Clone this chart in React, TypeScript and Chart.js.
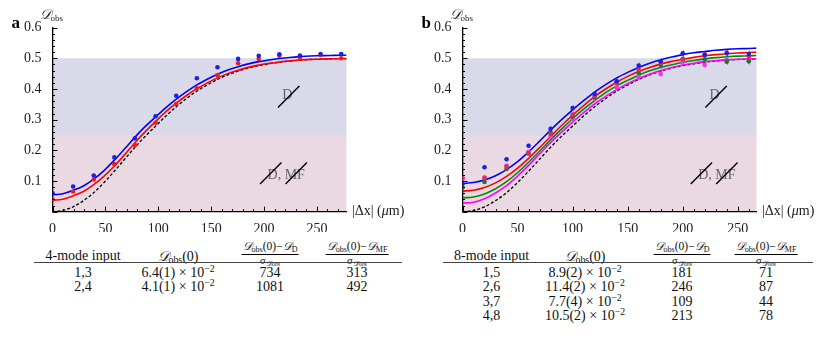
import React, { useEffect, useRef } from "react";
import { Chart, registerables } from "chart.js";
Chart.register(...registerables);

const SERIF = "'Liberation Serif', 'DejaVu Serif', serif";
const SD = "\u{1D49F}";

// ---------- Panel a data ----------
const dotXA = [0, 19.5, 39, 58.5, 78, 97.5, 117, 136.5, 156, 175.5, 195, 214.5, 234, 253.5, 273];
const dotBlueA = [0.061, 0.082, 0.118, 0.177, 0.239, 0.311, 0.378, 0.435, 0.471, 0.498, 0.508, 0.513, 0.509, 0.514, 0.514];
const dotRedA = [0.040, 0.066, 0.105, 0.155, 0.217, 0.290, 0.351, 0.402, 0.445, 0.484, 0.498, 0.508, 0.502, 0.511, 0.500];
const curveXA = [0, 9.75, 19.5, 29.25, 39, 48.75, 58.5, 68.25, 78, 87.75, 97.5, 107.25, 117, 126.75, 136.5, 146.25, 156, 165.75, 175.5, 185.25, 195, 204.75, 214.5, 224.25, 234, 243.75, 253.5, 263.25, 273, 278];
const curveBlueA = [0.055, 0.0586, 0.0696, 0.084, 0.106, 0.134, 0.168, 0.205, 0.243, 0.278, 0.309, 0.3395, 0.367, 0.3915, 0.4134, 0.4317, 0.4481, 0.4618, 0.4727, 0.4818, 0.4891, 0.4946, 0.4991, 0.5028, 0.5055, 0.5074, 0.5083, 0.5092, 0.510, 0.510];
const curveRedA = [0.037, 0.0407, 0.0518, 0.066, 0.088, 0.116, 0.149, 0.186, 0.225, 0.261, 0.294, 0.3259, 0.3537, 0.3787, 0.4009, 0.4194, 0.4361, 0.45, 0.4611, 0.4704, 0.4778, 0.4833, 0.488, 0.4917, 0.4944, 0.4963, 0.4972, 0.4981, 0.499, 0.499];
const curveBlackA = [0, 0.004, 0.016, 0.036, 0.062, 0.095, 0.132, 0.171, 0.21, 0.246, 0.279, 0.312, 0.342, 0.369, 0.393, 0.413, 0.431, 0.446, 0.458, 0.468, 0.476, 0.482, 0.487, 0.491, 0.494, 0.496, 0.497, 0.498, 0.499, 0.499];

// ---------- Panel b data ----------
const dotXB = [0, 20, 40, 60, 80, 100, 120, 140, 160, 180, 200, 220, 240, 260];
const dotBlueB = [0.09, 0.145, 0.171, 0.215, 0.27, 0.338, 0.384, 0.425, 0.476, 0.49, 0.516, 0.511, 0.516, 0.514];
const dotRedB = [0.11, 0.111, 0.147, 0.19, 0.253, 0.317, 0.377, 0.42, 0.463, 0.486, 0.497, 0.513, 0.518, 0.505];
const dotGreenB = [0.079, 0.097, 0.139, 0.19, 0.258, 0.31, 0.372, 0.421, 0.453, 0.478, 0.498, 0.497, 0.489, 0.49];
const dotMagentaB = [0.108, 0.11, 0.15, 0.195, 0.245, 0.302, 0.368, 0.405, 0.44, 0.449, 0.489, 0.478, 0.495, 0.495];
const errB = [0.005, 0.006, 0.006, 0.007, 0.008, 0.009, 0.009, 0.010, 0.010, 0.011, 0.011, 0.011, 0.011, 0.011];
const curveXB = [0, 10, 20, 30, 40, 50, 60, 70, 80, 90, 100, 110, 120, 130, 140, 150, 160, 170, 180, 190, 200, 210, 220, 230, 240, 250, 260, 267];
const curveBlueB = [0.092, 0.095, 0.103, 0.117, 0.137, 0.163, 0.195, 0.230, 0.266, 0.300, 0.332, 0.362, 0.390, 0.414, 0.436, 0.454, 0.470, 0.484, 0.495, 0.504, 0.512, 0.518, 0.522, 0.526, 0.529, 0.531, 0.532, 0.533];
const curveRedB = [0.067, 0.070, 0.079, 0.094, 0.115, 0.142, 0.174, 0.209, 0.245, 0.281, 0.315, 0.346, 0.375, 0.400, 0.422, 0.441, 0.457, 0.470, 0.481, 0.490, 0.497, 0.503, 0.508, 0.512, 0.515, 0.517, 0.519, 0.520];
const curveGreenB = [0.045, 0.048, 0.058, 0.075, 0.098, 0.127, 0.161, 0.197, 0.234, 0.269, 0.303, 0.334, 0.362, 0.388, 0.410, 0.428, 0.445, 0.459, 0.470, 0.479, 0.487, 0.493, 0.498, 0.502, 0.505, 0.507, 0.508, 0.509];
const curveMagentaB = [0.028, 0.031, 0.042, 0.061, 0.085, 0.116, 0.151, 0.188, 0.225, 0.259, 0.292, 0.323, 0.351, 0.376, 0.398, 0.417, 0.434, 0.448, 0.460, 0.470, 0.478, 0.484, 0.489, 0.492, 0.495, 0.497, 0.498, 0.499];
const curveBlackB = [0, 0.004, 0.016, 0.036, 0.062, 0.095, 0.132, 0.171, 0.21, 0.246, 0.279, 0.312, 0.342, 0.369, 0.393, 0.413, 0.431, 0.446, 0.458, 0.468, 0.476, 0.482, 0.487, 0.491, 0.494, 0.496, 0.497, 0.498];

// bands and ticks
const bandEdges = [0, 0.25, 0.5];
const yTickStep = 0.1;
const xTickStep = 50;

// ---------- Tables ----------
const tableAInputs = ["1,3", "2,4"];
const tableAD0 = ["6.4(1)", "4.1(1)"];
const tableAD = ["734", "1081"];
const tableAMF = ["313", "492"];
const tableBInputs = ["1,5", "2,6", "3,7", "4,8"];
const tableBD0 = ["8.9(2)", "11.4(2)", "7.7(4)", "10.5(2)"];
const tableBD = ["181", "246", "109", "213"];
const tableBMF = ["71", "87", "44", "78"];

const pts = (xs: number[], ys: number[]) => xs.map((x, i) => ({ x, y: ys[i] }));

const curve = (xs: number[], ys: number[], color: string, dash?: number[]) => ({
  data: pts(xs, ys),
  borderColor: color,
  borderWidth: dash ? 1.3 : 1.6,
  borderDash: dash || [],
  pointRadius: 0,
  showLine: true,
  fill: false,
  cubicInterpolationMode: "monotone" as const,
});
const dots = (xs: number[], ys: number[], color: string, err?: number[]) => ({
  data: pts(xs, ys),
  showLine: false,
  pointRadius: 2.3,
  pointBackgroundColor: color,
  pointBorderWidth: 0,
  borderColor: color,
  errors: err,
});

type Spec = {
  letter: string;
  width: number;
  xMax: number;
  datasets: any[];
  dMark: number[];
  dmfMark: number[];
};

function makeDeco(spec: Spec) {
  return {
    id: "deco" + spec.letter,
    beforeDraw(chart: any) {
      const { ctx, chartArea: ca, scales } = chart;
      const y = scales.y;
      ctx.save();
      const cols = ["rgb(234,217,227)", "rgb(217,217,234)"];
      for (let i = 0; i < bandEdges.length - 1; i++) {
        const y0 = y.getPixelForValue(bandEdges[i]);
        const y1 = y.getPixelForValue(bandEdges[i + 1]);
        ctx.fillStyle = cols[i];
        ctx.fillRect(ca.left, y1, ca.right - ca.left, y0 - y1);
      }
      ctx.restore();
    },
    beforeDatasetsDraw(chart: any) {
      const { ctx, scales } = chart;
      const x = scales.x, y = scales.y;
      ctx.save();
      ctx.lineWidth = 1;
      ctx.globalAlpha = 0.55;
      chart.data.datasets.forEach((ds: any) => {
        if (!ds.errors) return;
        ctx.strokeStyle = ds.borderColor;
        ds.data.forEach((p: any, i: number) => {
          const e = ds.errors[i];
          const px = Math.round(x.getPixelForValue(p.x)) + 0.5;
          ctx.beginPath();
          ctx.moveTo(px, y.getPixelForValue(p.y - e));
          ctx.lineTo(px, y.getPixelForValue(p.y + e));
          ctx.stroke();
        });
      });
      ctx.restore();
    },
    afterDraw(chart: any) {
      const { ctx, chartArea: ca, scales } = chart;
      const x = scales.x, y = scales.y;
      ctx.save();
      ctx.strokeStyle = "#000";
      ctx.lineWidth = 1;
      for (let i = 0; i <= 30; i++) {
        const v = i * 0.02;
        const py = Math.round(y.getPixelForValue(v)) + 0.5;
        const len = i % 5 === 0 ? 5 : 2.5;
        ctx.beginPath();
        ctx.moveTo(ca.left, py);
        ctx.lineTo(ca.left + len, py);
        ctx.stroke();
      }
      for (let i = 0; i * 10 <= spec.xMax; i++) {
        const px = Math.round(x.getPixelForValue(i * 10)) + 0.5;
        const len = i % 5 === 0 ? 5 : 2.5;
        ctx.beginPath();
        ctx.moveTo(px, ca.bottom);
        ctx.lineTo(px, ca.bottom - len);
        ctx.stroke();
      }
      // panel letter
      ctx.fillStyle = "#000";
      ctx.textBaseline = "alphabetic";
      ctx.textAlign = "left";
      ctx.font = `bold 17px ${SERIF}`;
      ctx.fillText(spec.letter, ca.left - 41, 28);
      // y title
      ctx.fillStyle = "#222";
      ctx.font = `italic 14px 'DejaVu Serif', 'DejaVu Sans', serif`;
      ctx.fillText(SD, ca.left - 13, 19);
      const dw = ctx.measureText(SD).width;
      ctx.font = `9px ${SERIF}`;
      ctx.fillText("obs", ca.left - 13 + dw, 21);
      // x title
      ctx.textBaseline = "middle";
      let tx = ca.right + 5.5;
      const ty = ca.bottom - 0.5;
      const parts: [string, boolean][] = [["|\u0394x| (", false], ["\u03bc", true], ["m)", false]];
      for (const [s, it] of parts) {
        ctx.font = `${it ? "italic " : ""}14px ${SERIF}`;
        ctx.fillText(s, tx, ty);
        tx += ctx.measureText(s).width;
      }
      // annotations
      ctx.font = `14px ${SERIF}`;
      ctx.fillStyle = "#666";
      ctx.textAlign = "center";
      const cx = x.getPixelForValue(spec.dMark[0]);
      const cy = y.getPixelForValue(spec.dMark[1]);
      ctx.fillText("D", cx, cy);
      ctx.strokeStyle = "#000";
      ctx.lineWidth = 1.4;
      const slash = (mx: number, my: number) => {
        ctx.beginPath();
        ctx.moveTo(mx - 10.7, my + 10.7);
        ctx.lineTo(mx + 10.7, my - 10.7);
        ctx.stroke();
      };
      slash(cx + 1.4, cy + 1.7);
      const mx = x.getPixelForValue(spec.dmfMark[0]);
      const my = y.getPixelForValue(spec.dmfMark[1]);
      ctx.textAlign = "left";
      const txt = "D, MF";
      const w = ctx.measureText(txt).width;
      const lx = mx - w / 2;
      ctx.fillText(txt, lx, my);
      slash(lx + 3.2, my - 1.6);
      slash(lx + 28.7, my - 1.6);
      ctx.restore();
    },
  };
}

function Panel({ spec, left }: { spec: Spec; left: number }) {
  const ref = useRef<HTMLCanvasElement>(null);
  useEffect(() => {
    const tickFont = { family: SERIF, size: 14 };
    const chart = new Chart(ref.current as HTMLCanvasElement, {
      type: "line",
      data: { datasets: spec.datasets },
      options: {
        animation: false,
        responsive: false,
        devicePixelRatio: 1,
        layout: { padding: { left: 12.5, top: 27.6, right: spec.width - 346.5, bottom: 0 } },
        plugins: { legend: { display: false }, tooltip: { enabled: false } },
        scales: {
          x: {
            type: "linear",
            min: 0,
            max: spec.xMax,
            grid: { display: false },
            border: { display: true, color: "#000", width: 1.3 },
            ticks: {
              stepSize: xTickStep,
              includeBounds: false,
              autoSkip: false,
              maxRotation: 0,
              padding: 1,
              font: tickFont,
              color: "#222",
              callback: (v: any) => String(v),
            },
            afterFit: (s: any) => {
              s.height = 20.3;
            },
          },
          y: {
            type: "linear",
            min: 0,
            max: 0.6,
            grid: { display: false },
            border: { display: true, color: "#000", width: 1.3 },
            ticks: {
              stepSize: yTickStep,
              autoSkip: false,
              padding: 3,
              font: tickFont,
              color: "#222",
              callback: (v: any) => (Number(v) === 0 ? "" : Number(v).toFixed(1)),
            },
            afterFit: (s: any) => {
              s.width = 40;
            },
          },
        },
      } as any,
      plugins: [makeDeco(spec)],
    });
    return () => chart.destroy();
  }, []);
  return (
    <canvas
      ref={ref}
      width={spec.width}
      height={232}
      style={{ position: "absolute", left, top: 0, width: spec.width, height: 232 }}
    />
  );
}

const specA: Spec = {
  letter: "a",
  width: 410,
  xMax: 278,
  datasets: [
    dots(dotXA, dotBlueA, "rgb(30,30,235)"),
    dots(dotXA, dotRedA, "rgb(235,30,30)"),
    curve(curveXA, curveBlueA, "rgb(0,0,255)"),
    curve(curveXA, curveRedA, "rgb(255,0,0)"),
    curve(curveXA, curveBlackA, "#000", [3, 2]),
  ],
  dMark: [222, 0.38],
  dmfMark: [221, 0.12],
};

const specB: Spec = {
  letter: "b",
  width: 412,
  xMax: 267,
  datasets: [
    dots(dotXB, dotBlueB, "rgb(30,30,235)", errB),
    dots(dotXB, dotRedB, "rgb(230,40,80)", errB),
    dots(dotXB, dotGreenB, "rgb(30,120,40)", errB),
    dots(dotXB, dotMagentaB, "rgb(230,60,230)", errB),
    curve(curveXB, curveBlueB, "rgb(0,0,255)"),
    curve(curveXB, curveRedB, "rgb(255,0,0)"),
    curve(curveXB, curveGreenB, "rgb(0,140,0)"),
    curve(curveXB, curveMagentaB, "rgb(255,0,255)"),
    curve(curveXB, curveBlackB, "#000", [3, 2]),
  ],
  dMark: [229, 0.38],
  dmfMark: [231, 0.12],
};

const DFONT = "'DejaVu Serif', 'DejaVu Sans', serif";
const D = () => <span style={{ fontFamily: DFONT, fontStyle: "italic" }}>{SD}</span>;
const Sub = ({ children }: { children: any }) => (
  <span style={{ fontSize: "0.7em", position: "relative", top: "0.3em" }}>{children}</span>
);
const Frac = ({ sub }: { sub: string }) => (
  <span style={{ display: "inline-flex", flexDirection: "column", alignItems: "center", fontSize: 11.5, lineHeight: 1 }}>
    <span style={{ paddingBottom: 2, paddingLeft: 1, paddingRight: 1 }}>
      <D />
      <Sub>obs</Sub>(0)−<D />
      <Sub>{sub}</Sub>
    </span>
    <span style={{ borderTop: "1px solid #000", alignSelf: "stretch", textAlign: "center", paddingTop: 1, fontSize: 10.5 }}>
      σ
      <Sub>
        <D />
        <span style={{ fontSize: "0.8em" }}>obs</span>
      </Sub>
    </span>
  </span>
);

function Cell({ x, y, children }: { x: number; y: number; children: any }) {
  return (
    <div
      style={{
        position: "absolute",
        left: x,
        top: y,
        transform: "translate(-50%, -50%)",
        whiteSpace: "nowrap",
        lineHeight: 1,
        fontFamily: SERIF,
        fontSize: 14,
        color: "#111",
      }}
    >
      {children}
    </div>
  );
}

function Table({
  cols,
  ruleX,
  label,
  inputs,
  d0,
  dd,
  dmf,
}: {
  cols: number[];
  ruleX: number[];
  label: string;
  inputs: string[];
  d0: string[];
  dd: string[];
  dmf: string[];
}) {
  const rowY0 = 272.5;
  const rowStep = 14.6;
  return (
    <>
      <Cell x={cols[0]} y={255.5}>{label}</Cell>
      <Cell x={cols[1]} y={255.5}>
        <D />
        <Sub>obs</Sub>(0)
      </Cell>
      <Cell x={cols[2]} y={252.5}>
        <Frac sub="D" />
      </Cell>
      <Cell x={cols[3]} y={252.5}>
        <Frac sub="MF" />
      </Cell>
      <div
        style={{
          position: "absolute",
          left: ruleX[0],
          top: 262,
          width: ruleX[1] - ruleX[0],
          height: 0,
          borderTop: "1.2px solid #444",
        }}
      />
      {inputs.map((s, i) => (
        <React.Fragment key={i}>
          <Cell x={cols[0]} y={rowY0 + i * rowStep}>{s}</Cell>
          <Cell x={cols[1]} y={rowY0 + i * rowStep}>
            {d0[i]} × 10<sup style={{ fontSize: "0.7em", verticalAlign: "0.55em", lineHeight: 0 }}>−2</sup>
          </Cell>
          <Cell x={cols[2]} y={rowY0 + i * rowStep}>{dd[i]}</Cell>
          <Cell x={cols[3]} y={rowY0 + i * rowStep}>{dmf[i]}</Cell>
        </React.Fragment>
      ))}
    </>
  );
}

export default function App() {
  return (
    <div style={{ position: "fixed", left: 0, top: 0, width: 822, height: 341, background: "#fff", overflow: "hidden" }}>
      <Panel spec={specA} left={0} />
      <Panel spec={specB} left={410} />
      <Table
        cols={[83, 178, 270, 357]}
        ruleX={[34, 402]}
        label="4-mode input"
        inputs={tableAInputs}
        d0={tableAD0}
        dd={tableAD}
        dmf={tableAMF}
      />
      <Table
        cols={[491.5, 585, 682, 766]}
        ruleX={[443, 813]}
        label="8-mode input"
        inputs={tableBInputs}
        d0={tableBD0}
        dd={tableBD}
        dmf={tableBMF}
      />
    </div>
  );
}
